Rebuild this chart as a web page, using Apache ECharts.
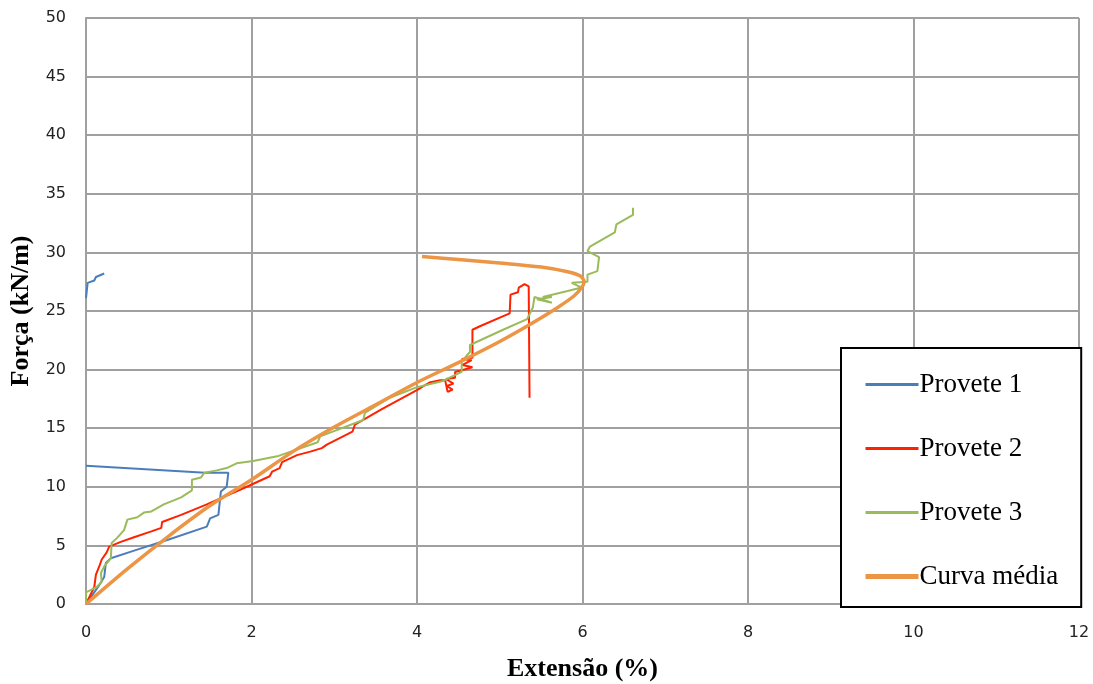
<!DOCTYPE html>
<html>
<head>
<meta charset="utf-8">
<script src="https://cdn.jsdelivr.net/npm/echarts@6/dist/echarts.min.js"></script>
<style>
  html, body { margin: 0; padding: 0; background: #fff; }
  #chart { width: 1093px; height: 684px; }
</style>
</head>
<body>
<div id="chart"></div>
<script>
// Provete 1 (two pieces, no line between them)
const p1aX = [0, 0.05, 0.15, 0.22, 0.24, 0.30, 0.60, 1.00, 1.46, 1.50, 1.60, 1.63, 1.70, 1.72, 1.44, 0];
const p1aY = [0, 0.5, 1.5, 2.3, 3.5, 3.9, 4.6, 5.5, 6.6, 7.3, 7.6, 9.6, 10.0, 11.2, 11.2, 11.8];
const p1bX = [0, 0.02, 0.10, 0.12, 0.22];
const p1bY = [26.1, 27.4, 27.6, 27.9, 28.2];

// Provete 2
const p2X = [0, 0.10, 0.12, 0.16, 0.19, 0.25, 0.28, 0.42, 0.58, 0.79, 0.91, 0.92, 1.15, 1.46, 1.91, 2.22, 2.25, 2.34, 2.37, 2.55, 2.71, 2.85, 2.91, 3.22, 3.25, 3.57, 3.67, 4.01, 4.15, 4.28, 4.34, 4.37, 4.43, 4.36, 4.44, 4.35, 4.46, 4.46, 4.52, 4.54, 4.67, 4.55, 4.66, 4.54, 4.67, 4.67, 4.76, 5.12, 5.13, 5.22, 5.23, 5.30, 5.35, 5.36];
const p2Y = [0, 1.45, 2.5, 3.2, 3.8, 4.4, 4.9, 5.3, 5.7, 6.2, 6.5, 7.0, 7.6, 8.5, 9.9, 10.9, 11.3, 11.6, 12.1, 12.7, 13.0, 13.3, 13.6, 14.7, 15.3, 16.6, 17.0, 18.3, 18.9, 19.1, 19.1, 18.1, 18.3, 18.6, 18.8, 19.2, 19.3, 19.8, 19.9, 20.0, 20.2, 20.4, 20.8, 20.9, 21.0, 23.4, 23.7, 24.8, 26.4, 26.6, 27.0, 27.3, 27.1, 17.6];

// Provete 3
const p3X = [0, 0, 0.06, 0.13, 0.19, 0.18, 0.22, 0.30, 0.31, 0.37, 0.46, 0.50, 0.62, 0.70, 0.79, 0.94, 1.15, 1.28, 1.28, 1.39, 1.43, 1.58, 1.70, 1.82, 2.02, 2.31, 2.80, 2.83, 3.35, 3.37, 3.67, 4.00, 4.30, 4.54, 4.54, 4.64, 4.64, 5.04, 5.33, 5.40, 5.42, 5.63, 5.45, 5.63, 5.52, 5.82, 5.99, 5.87, 6.06, 6.06, 6.18, 6.20, 6.06, 6.09, 6.39, 6.41, 6.61, 6.61];
const p3Y = [0, 1.0, 1.2, 1.45, 1.9, 2.65, 3.2, 3.9, 5.2, 5.6, 6.3, 7.2, 7.4, 7.8, 7.9, 8.5, 9.1, 9.7, 10.6, 10.8, 11.2, 11.4, 11.6, 12.0, 12.2, 12.6, 13.8, 14.3, 15.7, 16.3, 17.6, 18.5, 19.0, 19.8, 20.7, 21.5, 22.1, 23.4, 24.3, 25.3, 26.2, 25.7, 26.0, 26.2, 26.2, 26.7, 27.0, 27.4, 27.5, 28.1, 28.4, 29.6, 30.1, 30.5, 31.7, 32.4, 33.2, 33.8];

// Curva média
const meanX = [0, 0.5, 1.0, 1.5, 2.0, 2.5, 3.0, 3.5, 4.0, 4.5, 5.0, 5.4, 5.7, 5.9, 5.99, 6.02, 5.97, 5.82, 5.5, 5.0, 4.5, 4.06];
const meanY = [0, 3.0, 5.8, 8.4, 10.6, 13.0, 15.1, 17.0, 18.9, 20.6, 22.4, 24.0, 25.3, 26.3, 27.0, 27.5, 28.0, 28.35, 28.75, 29.1, 29.4, 29.65];

const pairs = (xs, ys) => xs.map((x, i) => [x, ys[i]]);

const gridColor = "#a0a0a0";
const chart = echarts.init(document.getElementById("chart"));

const option = {
  animation: false,
  grid: { left: 86, right: 14, top: 18, bottom: 80, outerBoundsMode: "none", containLabel: false },
  xAxis: {
    type: "value",
    min: 0,
    max: 12,
    interval: 2,
    name: "Extensão (%)",
    nameLocation: "middle",
    nameGap: 52,
    nameTextStyle: { fontFamily: "Liberation Serif", fontWeight: "bold", fontSize: 26, color: "#000" },
    axisLine: { lineStyle: { color: gridColor, width: 2 } },
    axisTick: { show: false },
    axisLabel: { fontFamily: "DejaVu Sans", fontSize: 16, color: "#222", margin: 21 },
    splitLine: { lineStyle: { color: gridColor, width: 2 } }
  },
  yAxis: {
    type: "value",
    min: 0,
    max: 50,
    interval: 5,
    name: "Força (kN/m)",
    nameLocation: "middle",
    nameGap: 49,
    nameRotate: 90,
    nameTextStyle: { fontFamily: "Liberation Serif", fontWeight: "bold", fontSize: 26, color: "#000" },
    axisLine: { show: true, lineStyle: { color: gridColor, width: 2 } },
    axisTick: { show: false },
    axisLabel: { fontFamily: "DejaVu Sans", fontSize: 16, color: "#222", margin: 20 },
    splitLine: { lineStyle: { color: gridColor, width: 2 } }
  },
  legend: {
    orient: "vertical",
    left: 841,
    top: 348,
    padding: [23, 23, 17, 22],
    itemGap: 37,
    itemWidth: 53,
    itemHeight: 14,
    itemStyle: { opacity: 0 },
    backgroundColor: "#fff",
    borderColor: "#000",
    borderWidth: 2,
    textStyle: { fontFamily: "Liberation Serif", fontSize: 27, color: "#000", padding: [0, 0, 0, -4] },
    data: [
      { name: "Provete 1", lineStyle: { width: 3 } },
      { name: "Provete 2", lineStyle: { width: 3 } },
      { name: "Provete 3", lineStyle: { width: 3 } },
      { name: "Curva média", lineStyle: { width: 5 } }
    ]
  },
  series: [
    {
      name: "Provete 1", type: "line", symbol: "none",
      lineStyle: { color: "#4a7ebb", width: 2 }, itemStyle: { color: "#4a7ebb" },
      data: pairs(p1aX, p1aY)
    },
    {
      name: "Provete 1", type: "line", symbol: "none",
      lineStyle: { color: "#4a7ebb", width: 2 }, itemStyle: { color: "#4a7ebb" },
      data: pairs(p1bX, p1bY)
    },
    {
      name: "Provete 2", type: "line", symbol: "none",
      lineStyle: { color: "#ff2200", width: 2 }, itemStyle: { color: "#ff2200" },
      data: pairs(p2X, p2Y)
    },
    {
      name: "Provete 3", type: "line", symbol: "none",
      lineStyle: { color: "#9bbb59", width: 2 }, itemStyle: { color: "#9bbb59" },
      data: pairs(p3X, p3Y)
    },
    {
      name: "Curva média", type: "line", symbol: "none", smooth: 0.3,
      lineStyle: { color: "#eb9545", width: 3.5 }, itemStyle: { color: "#eb9545" },
      data: pairs(meanX, meanY)
    }
  ]
};

chart.setOption(option);
</script>
</body>
</html>
